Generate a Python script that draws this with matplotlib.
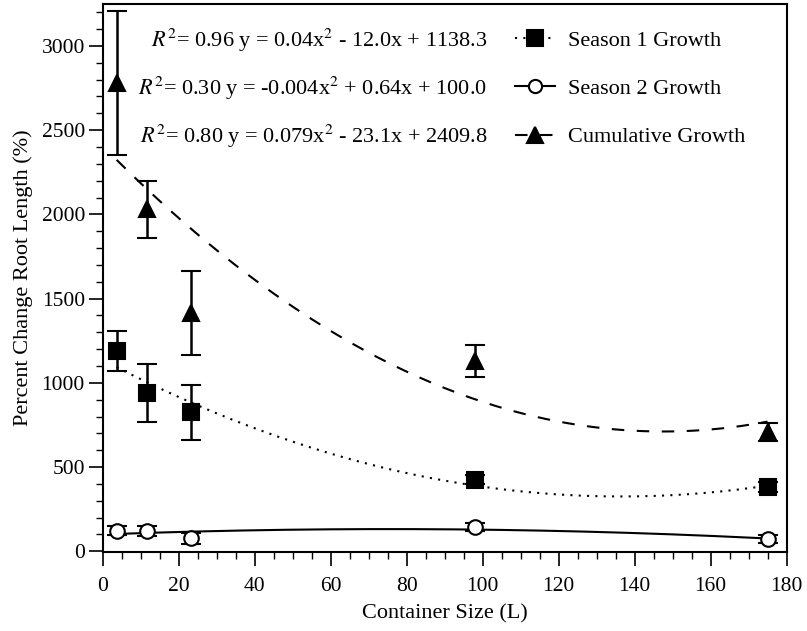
import numpy as np
import matplotlib
matplotlib.use("Agg")
import matplotlib.pyplot as plt
from matplotlib.ticker import MultipleLocator
from matplotlib.lines import Line2D

plt.rcParams['font.family'] = ['Liberation Serif', 'DejaVu Serif']
plt.rcParams['mathtext.fontset'] = 'stix'

# container sizes (L)
sizes = [3.6, 11.5, 23.2, 98.0, 175.0]

season1 = [1190, 940, 825, 425, 380]
season1_err = [120, 170, 165, 25, 30]

season2 = [122, 118, 78, 143, 72]
season2_err = [28, 30, 32, 25, 22]

cumulative = [2780, 2030, 1415, 1128, 708]
cumulative_err = [425, 170, 250, 95, 55]

equations = [
    r"$\mathit{R}^2$= 0.96 y = 0.04x$^2$ - 12.0x + 1138.3",
    r"$\mathit{R}^2$= 0.30 y = -0.004x$^2$ + 0.64x + 100.0",
    r"$\mathit{R}^2$= 0.80 y = 0.079x$^2$ - 23.1x + 2409.8",
]
labels = ["Season 1 Growth", "Season 2 Growth", "Cumulative Growth"]

fig = plt.figure(figsize=(8.07, 6.31), dpi=100)
ax = fig.add_axes([0.1276, 0.125, 0.847, 0.869])

x = np.array(sizes)
xs = np.linspace(x.min(), x.max(), 200)

styles = [
    (season1, season1_err, 's', 'black', (0, (1, 3)), 12),
    (season2, season2_err, 'o', 'white', '-', 10.5),
    (cumulative, cumulative_err, '^', 'black', (0, (6, 6)), 12),
]

handles = []
for (vals, errs, mk, fc, ls, ms), lab in zip(styles, labels):
    coef = np.polyfit(x, vals, 2)
    ax.plot(xs, np.polyval(coef, xs), color='black', linestyle=ls, lw=1.5, zorder=2)
    ax.errorbar(x, vals, yerr=errs, fmt=mk, mfc=fc, mec='black', mew=1.5,
                ms=ms, ecolor='black', elinewidth=1.8, capsize=7, capthick=1.8,
                zorder=3)
    handles.append(Line2D([], [], color='black', linestyle=ls, lw=1.5,
                          marker=mk, mfc=fc, mec='black', mew=1.5, ms=ms - 1))

for i, eq in enumerate(equations):
    ax.text(0.562, 0.934 - i * 0.088, eq, transform=ax.transAxes, ha='right',
            va='center', fontsize=16)

ax.legend(handles, labels, loc='upper left', frameon=False, fontsize=16,
          handlelength=1.8, handletextpad=0.6, labelspacing=1.25,
          bbox_to_anchor=(0.59, 0.968), borderaxespad=0.0)

ax.set_xlim(0, 180)
ax.set_ylim(-5, 3250)
ax.xaxis.set_major_locator(MultipleLocator(20))
ax.xaxis.set_minor_locator(MultipleLocator(5))
ax.yaxis.set_major_locator(MultipleLocator(500))
ax.yaxis.set_minor_locator(MultipleLocator(100))
ax.tick_params(which='major', direction='out', length=10, width=1.2, labelsize=15.5)
ax.tick_params(which='minor', direction='out', length=5, width=1.0)
ax.tick_params(axis='x', which='major', pad=8)
ax.tick_params(axis='y', which='major', pad=3)
for s in ax.spines.values():
    s.set_linewidth(1.5)

ax.set_xlabel("Container Size (L)", fontsize=16, labelpad=6)
ax.set_ylabel("Percent Change Root Length (%)", fontsize=16, labelpad=6)

fig.savefig("out.png", dpi=100)
